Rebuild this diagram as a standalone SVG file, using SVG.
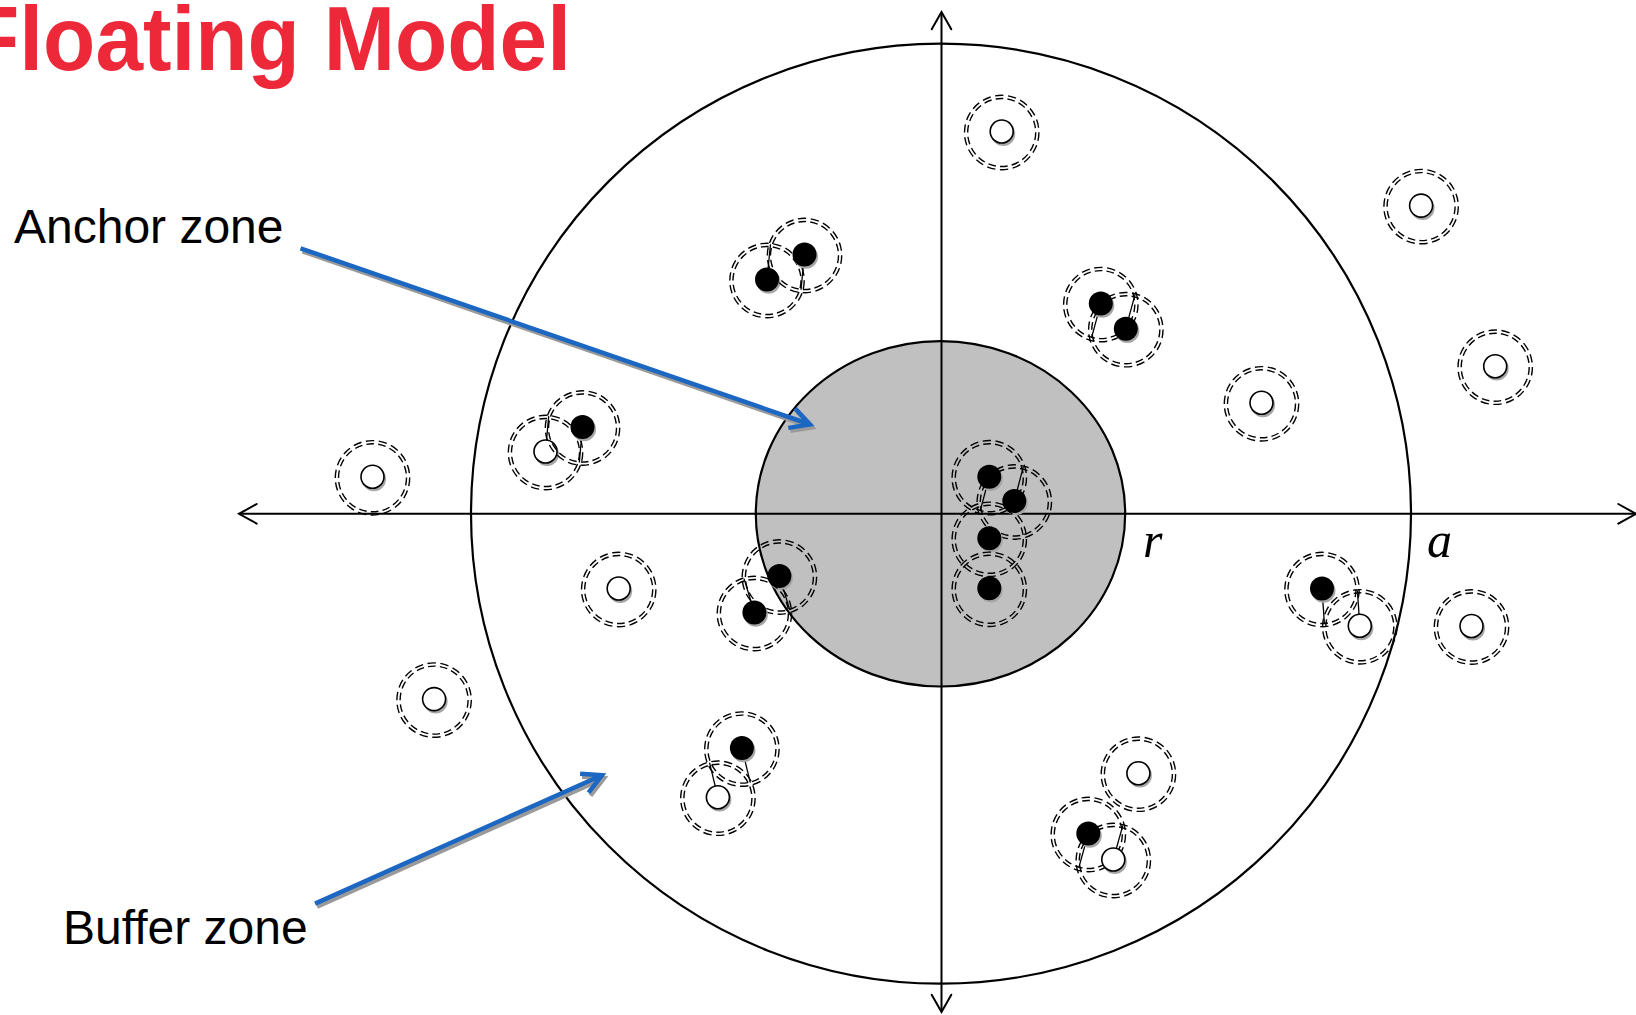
<svg xmlns="http://www.w3.org/2000/svg" xmlns:xlink="http://www.w3.org/1999/xlink" width="1636" height="1015" viewBox="0 0 1636 1015">
<style>
.axis{stroke:#000;stroke-width:2;fill:none}
.head{stroke:#000;stroke-width:2;fill:none;stroke-linecap:round;stroke-linejoin:miter}
.ring{fill:none;stroke:#000;stroke-width:1.4;stroke-dasharray:3.6 1.95}
.link{stroke:#000;stroke-width:1.3;fill:none}
.blk{fill:#000}
.wht{fill:#fff;stroke:#000;stroke-width:1.6}
.shd{fill:#a6a6a6}
.lbl{font-family:"Liberation Sans",Arial,sans-serif;font-size:48px;fill:#000}
.var{font-family:"Liberation Serif","Times New Roman",serif;font-style:italic;font-size:50px;fill:#000}
.blue{stroke:#1b67c2;stroke-width:4.5;fill:none;stroke-linejoin:miter;stroke-linecap:butt}
.bsh{stroke:#9a9a9a;stroke-width:4.5;fill:none;stroke-linejoin:miter}
</style>
<defs>
<g id="ring">
<circle class="ring" cx="0" cy="1" r="34" pathLength="100"/>
<circle class="ring" cx="0" cy="1" r="37.2" pathLength="100"/>
</g>
<g id="bdot"><circle class="shd" cx="1.5" cy="2.2" r="12"/><circle class="blk" cx="0" cy="0" r="12"/></g>
<g id="wdot"><circle class="shd" cx="1.5" cy="2.4" r="12"/><circle class="wht" cx="0" cy="0" r="11.5"/></g>
</defs>
<rect width="1636" height="1015" fill="#fff"/>
<text x="-33" y="70" font-family="'Liberation Sans',Arial,sans-serif" font-weight="bold" font-size="91" fill="#ed2939" textLength="604" lengthAdjust="spacingAndGlyphs">Floating Model</text>
<g id="anchor-zone"><ellipse cx="940.5" cy="513.8" rx="184.7" ry="172.7" fill="#c0c0c0" stroke="#000" stroke-width="2.2"/></g>
<g id="buffer-zone"><circle cx="941" cy="513.7" r="470" fill="none" stroke="#000" stroke-width="2.2"/></g>
<g id="connectors">
<line class="axis" x1="239" y1="513.8" x2="1636" y2="513.8"/>
<polyline class="head" points="256.7,504 239,513.8 256.7,523.6"/>
<polyline class="head" points="1618.3,504 1636,513.8 1618.3,523.6"/>
<line class="axis" x1="941.5" y1="12.5" x2="941.5" y2="1012"/>
<polyline class="head" points="931.7,29.3 941.5,12 951.3,29.3"/>
<polyline class="head" points="931.7,994.7 941.5,1012 951.3,994.7"/>
<g transform="translate(2,3)">
<line class="bsh" x1="300.5" y1="248.3" x2="806" y2="423"/>
<polyline class="bsh" points="795,408.4 810,424.5 788.3,427.9"/>
<line class="bsh" x1="315.1" y1="903.6" x2="598" y2="777"/>
<polyline class="bsh" points="588.5,792.7 602,775.3 580.1,773.8"/>
</g>
<line class="blue" x1="300.5" y1="248.3" x2="806" y2="423"/>
<polyline class="blue" points="795,408.4 810,424.5 788.3,427.9"/>
<line class="blue" x1="315.1" y1="903.6" x2="598" y2="777"/>
<polyline class="blue" points="588.5,792.7 602,775.3 580.1,773.8"/>
<line class="link" x1="767" y1="279.5" x2="770.5" y2="244.2"/>
<line class="link" x1="804.5" y1="254.5" x2="801" y2="289.8"/>
<line class="link" x1="1100.8" y1="303.6" x2="1091.5" y2="337.9"/>
<line class="link" x1="1125.8" y1="328.7" x2="1135.1" y2="294.4"/>
<line class="link" x1="545.5" y1="451.5" x2="548.7" y2="416.1"/>
<line class="link" x1="582.5" y1="427" x2="579.3" y2="462.4"/>
<line class="link" x1="754.4" y1="612.5" x2="744" y2="578.6"/>
<line class="link" x1="779.4" y1="576" x2="789.8" y2="609.9"/>
<line class="link" x1="1322" y1="588.5" x2="1324.4" y2="623.9"/>
<line class="link" x1="1359.8" y1="625.8" x2="1357.4" y2="590.4"/>
<line class="link" x1="717.9" y1="797.2" x2="709.5" y2="762.7"/>
<line class="link" x1="741.9" y1="748.1" x2="750.3" y2="782.6"/>
<line class="link" x1="1088.3" y1="833.5" x2="1078.8" y2="867.7"/>
<line class="link" x1="1113.3" y1="859.5" x2="1122.8" y2="825.3"/>
<line class="link" x1="989.3" y1="476.7" x2="980.2" y2="511"/>
<line class="link" x1="1014.3" y1="501" x2="1023.4" y2="466.7"/>
</g>
<g id="o1"><use href="#ring" x="1001.7" y="131.5"/><use href="#wdot" x="1001.7" y="131.5"/></g>
<g id="o2"><use href="#ring" x="1421.1" y="205.6"/><use href="#wdot" x="1421.1" y="205.6"/></g>
<g id="o3"><use href="#ring" x="1495.2" y="366.2"/><use href="#wdot" x="1495.2" y="366.2"/></g>
<g id="o4"><use href="#ring" x="1261.5" y="402.8"/><use href="#wdot" x="1261.5" y="402.8"/></g>
<g id="o5"><use href="#ring" x="372.5" y="476.8"/><use href="#wdot" x="372.5" y="476.8"/></g>
<g id="o6"><use href="#ring" x="618.7" y="588.5"/><use href="#wdot" x="618.7" y="588.5"/></g>
<g id="o7"><use href="#ring" x="434.1" y="699.1"/><use href="#wdot" x="434.1" y="699.1"/></g>
<g id="o8"><use href="#ring" x="1471.5" y="626"/><use href="#wdot" x="1471.5" y="626"/></g>
<g id="o9"><use href="#ring" x="1138.4" y="773.2"/><use href="#wdot" x="1138.4" y="773.2"/></g>
<g id="a1"><use href="#ring" x="767" y="279.5"/><use href="#bdot" x="767" y="279.5"/></g>
<g id="a2"><use href="#ring" x="804.5" y="254.5"/><use href="#bdot" x="804.5" y="254.5"/></g>
<g id="b1"><use href="#ring" x="1100.8" y="303.6"/><use href="#bdot" x="1100.8" y="303.6"/></g>
<g id="b2"><use href="#ring" x="1125.8" y="328.7"/><use href="#bdot" x="1125.8" y="328.7"/></g>
<g id="c1"><use href="#ring" x="545.5" y="451.5"/><use href="#wdot" x="545.5" y="451.5"/></g>
<g id="c2"><use href="#ring" x="582.5" y="427"/><use href="#bdot" x="582.5" y="427"/></g>
<g id="d1"><use href="#ring" x="779.4" y="576"/><use href="#bdot" x="779.4" y="576"/></g>
<g id="d2"><use href="#ring" x="754.4" y="612.5"/><use href="#bdot" x="754.4" y="612.5"/></g>
<g id="e1"><use href="#ring" x="1322" y="588.5"/><use href="#bdot" x="1322" y="588.5"/></g>
<g id="e2"><use href="#ring" x="1359.8" y="625.8"/><use href="#wdot" x="1359.8" y="625.8"/></g>
<g id="f1"><use href="#ring" x="741.9" y="748.1"/><use href="#bdot" x="741.9" y="748.1"/></g>
<g id="f2"><use href="#ring" x="717.9" y="797.2"/><use href="#wdot" x="717.9" y="797.2"/></g>
<g id="g1"><use href="#ring" x="1088.3" y="833.5"/><use href="#bdot" x="1088.3" y="833.5"/></g>
<g id="g2"><use href="#ring" x="1113.3" y="859.5"/><use href="#wdot" x="1113.3" y="859.5"/></g>
<g id="k1"><use href="#ring" x="989.3" y="476.7"/><use href="#bdot" x="989.3" y="476.7"/></g>
<g id="k2"><use href="#ring" x="1014.3" y="501"/><use href="#bdot" x="1014.3" y="501"/></g>
<g id="k3"><use href="#ring" x="989.3" y="538.3"/><use href="#bdot" x="989.3" y="538.3"/></g>
<g id="k4"><use href="#ring" x="989.3" y="588.3"/><use href="#bdot" x="989.3" y="588.3"/></g>
<g id="labels">
<text class="lbl" x="14" y="243">Anchor zone</text>
<text class="lbl" x="63" y="944">Buffer zone</text>
<text class="var" x="1143" y="557">r</text>
<text class="var" x="1427" y="557">a</text>
</g>
</svg>
